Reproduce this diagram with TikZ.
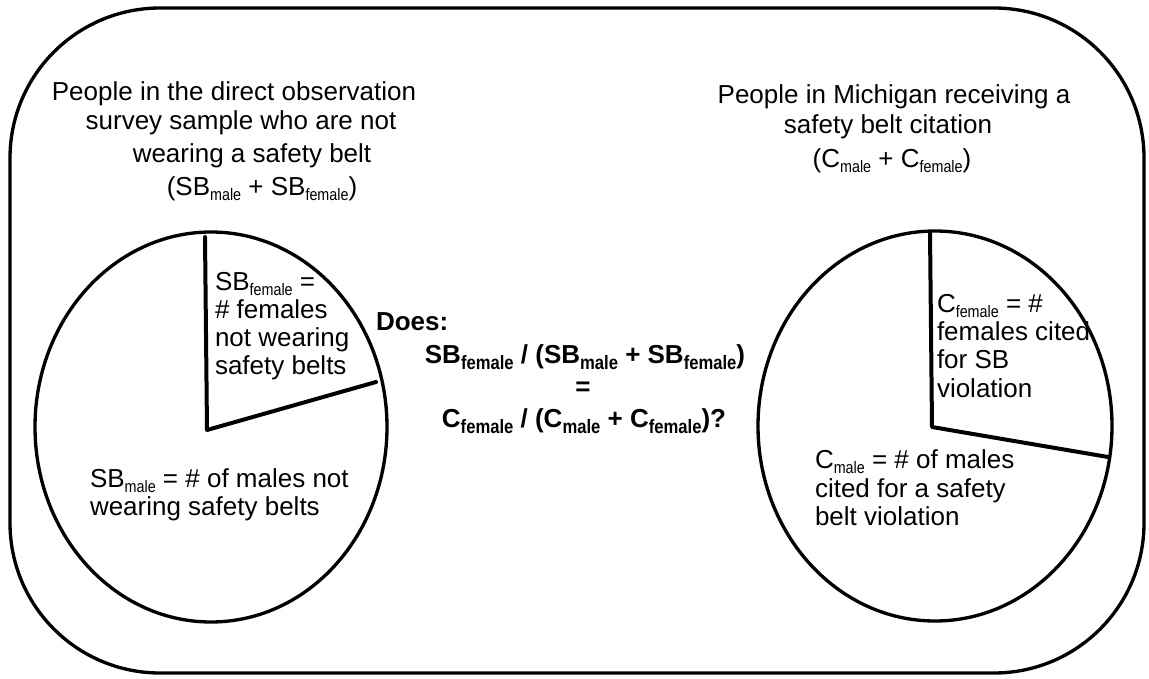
\documentclass[tikz,border=0pt]{standalone}
\usepackage{fontspec}
\usetikzlibrary{shapes.geometric}
\setmainfont{Liberation Sans}
\newfontfamily\subfam[FakeStretch=0.86]{Liberation Sans}
\newcommand\sbs[1]{\raisebox{-4.2pt}[\height][0pt]{\subfam\fontsize{12.5}{13}\selectfont #1}}
\newcommand\sbb[1]{\raisebox{-4.5pt}[\height][0pt]{\subfam\bfseries\fontsize{14.5}{15}\selectfont #1}}
\tikzset{
  txt/.style={inner sep=0pt, outer sep=0pt, font=\fontsize{19.5}{23.5}\selectfont},
  btxt/.style={txt, font=\fontsize{19.5}{23.5}\selectfont\bfseries},
  frame/.style={draw=black, line width=2.5pt, rounded corners=112.5pt},
  pie/.style={draw=black, line width=2.5pt},
  spoke/.style={draw=black, line width=3pt, line cap=round, line join=round}
}
\begin{document}
\begin{tikzpicture}[x=0.75pt, y=-0.75pt]
\useasboundingbox (0,0) rectangle (1149,678);
\fill[white] (0,0) rectangle (1149,678);
% outer frame
\draw[frame] (10,8) rectangle (1144,673);
% left pie
\node[pie, ellipse, minimum width=352*0.75pt, minimum height=390*0.75pt, inner sep=0pt] (lpie) at (211,427) {};
\coordinate (lc) at (207,430);
\coordinate (lt) at (205,237);
\coordinate (lr) at (376,382);
\draw[spoke] (lt) -- (lc) -- (lr);
% right pie
\node[pie, ellipse, minimum width=354*0.75pt, minimum height=390*0.75pt, inner sep=0pt] (rpie) at (935,426) {};
\coordinate (rc) at (932,427);
\coordinate (rt) at (930,232);
\coordinate (rr) at (1108,457);
\draw[spoke] (rt) -- (rc) -- (rr);
% left title
\node[txt, anchor=base] (lt1) at (234,100) {People in the direct observation};
\node[txt, anchor=base] (lt2) at (241,129) {survey sample who are not};
\node[txt, anchor=base] (lt3) at (252,162) {wearing a safety belt};
\node[txt, anchor=base] (lt4) at (262,195) {(SB\sbs{male} + SB\sbs{female})};
% right title
\node[txt, anchor=base] (rt1) at (894,103) {People in Michigan receiving a};
\node[txt, anchor=base] (rt2) at (888,133) {safety belt citation};
\node[txt, anchor=base] (rt3) at (892,167) {(C\sbs{male} + C\sbs{female})};
% left pie labels
\node[txt, anchor=base west] (lf1) at (215,290) {SB\sbs{female} =};
\node[txt, anchor=base west] (lf2) at (215,318) {\# females};
\node[txt, anchor=base west] (lf3) at (215,346) {not wearing};
\node[txt, anchor=base west] (lf4) at (215,374) {safety belts};
\node[txt, anchor=base west] (lm1) at (90,487) {SB\sbs{male} = \# of males not};
\node[txt, anchor=base west] (lm2) at (90,515) {wearing safety belts};
% right pie labels
\node[txt, anchor=base west] (rf1) at (937,312) {C\sbs{female} = \#};
\node[txt, anchor=base west] (rf2) at (937,340) {females cited};
\node[txt, anchor=base west] (rf3) at (937,368) {for SB};
\node[txt, anchor=base west] (rf4) at (937,397) {violation};
\node[txt, anchor=base west] (rm1) at (815,468) {C\sbs{male} = \# of males};
\node[txt, anchor=base west] (rm2) at (815,497) {cited for a safety};
\node[txt, anchor=base west] (rm3) at (815,525) {belt violation};
% center question
\node[btxt, anchor=base west] (q0) at (376,330) {Does:};
\node[btxt, anchor=base] (q1) at (585,363) {SB\sbb{female} / (SB\sbb{male} + SB\sbb{female})};
\node[btxt, anchor=base] (q2) at (583,395) {=};
\node[btxt, anchor=base] (q3) at (584,427) {C\sbb{female} / (C\sbb{male} + C\sbb{female})?};
\end{tikzpicture}
\end{document}
